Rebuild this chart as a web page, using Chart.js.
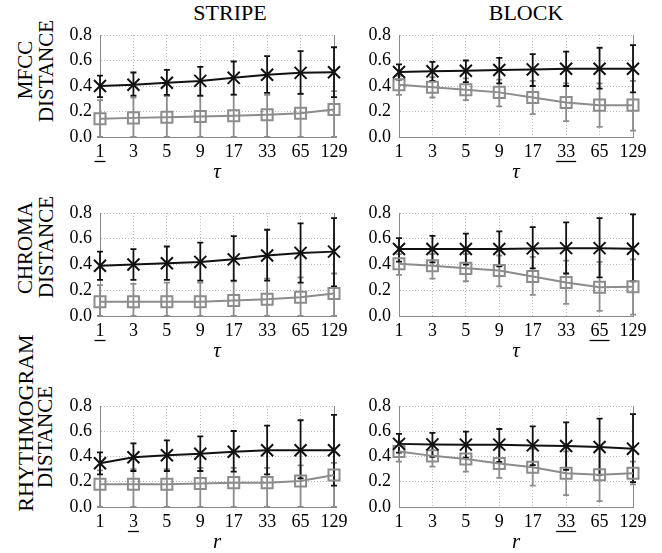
<!DOCTYPE html>
<html lang="en">
<head>
<meta charset="UTF-8">
<title>Distance vs tau / r</title>
<script src="https://cdn.jsdelivr.net/npm/chart.js"></script>
<style>
  body { margin: 0; background: #fff; font-family: "Liberation Serif", "Times New Roman", Times, serif; color: #000; }
  #fig { position: relative; width: 662px; height: 553px; overflow: hidden; }
  .panel { position: absolute; }
  .col-title { position: absolute; top: 2px; font-size: 22px; line-height: 22px; white-space: nowrap; transform: translateX(-50%); }
  .row-title { position: absolute; font-size: 21px; line-height: 21px; white-space: nowrap; transform: translate(-50%, -50%) rotate(-90deg); }
</style>
</head>
<body>
<div id="fig">
  <div class="col-title" style="left:230px">STRIPE</div>
  <div class="col-title" style="left:526px">BLOCK</div>

  <div class="row-title" style="left:25px; top:70px">MFCC</div>
  <div class="row-title" style="left:46px; top:71px">DISTANCE</div>
  <div class="row-title" style="left:25px; top:248px">CHROMA</div>
  <div class="row-title" style="left:46px; top:247px">DISTANCE</div>
  <div class="row-title" style="left:25px; top:423px; font-size:22px">RHYTHMOGRAM</div>
  <div class="row-title" style="left:45px; top:437px">DISTANCE</div>
</div>

<script>
// x categories and y ticks
const xLabels = ['1', '3', '5', '9', '17', '33', '65', '129'];
const yTickValues = [0, 0.2, 0.4, 0.6, 0.8];
const yTickLabels = ['0.0', '0.2', '0.4', '0.6', '0.8'];

// MFCC / STRIPE
const mfccStripeBlack   = [0.40, 0.41, 0.425, 0.44, 0.464, 0.488, 0.503, 0.508];
const mfccStripeBlackLo = [0.312, 0.325, 0.33, 0.325, 0.333, 0.346, 0.339, 0.312];
const mfccStripeBlackHi = [0.482, 0.506, 0.527, 0.55, 0.592, 0.634, 0.673, 0.704];
const mfccStripeGray    = [0.143, 0.15, 0.155, 0.16, 0.166, 0.174, 0.187, 0.216];
const mfccStripeGrayLo  = [0, 0, 0, 0, 0, 0, 0, 0];
const mfccStripeGrayHi  = [0.29, 0.31, 0.32, 0.32, 0.33, 0.33, 0.34, 0.36];

// MFCC / BLOCK
const mfccBlockBlack   = [0.51, 0.515, 0.52, 0.525, 0.53, 0.535, 0.535, 0.535];
const mfccBlockBlackLo = [0.45, 0.44, 0.43, 0.42, 0.40, 0.40, 0.38, 0.35];
const mfccBlockBlackHi = [0.57, 0.59, 0.60, 0.62, 0.65, 0.67, 0.70, 0.72];
const mfccBlockGray    = [0.41, 0.39, 0.37, 0.35, 0.31, 0.27, 0.25, 0.25];
const mfccBlockGrayLo  = [0.33, 0.31, 0.29, 0.24, 0.18, 0.125, 0.08, 0.05];
const mfccBlockGrayHi  = [0.48, 0.47, 0.46, 0.45, 0.44, 0.42, 0.42, 0.44];

// CHROMA / STRIPE
const chromaStripeBlack   = [0.39, 0.40, 0.41, 0.42, 0.44, 0.47, 0.49, 0.50];
const chromaStripeBlackLo = [0.28, 0.28, 0.28, 0.275, 0.275, 0.275, 0.26, 0.23];
const chromaStripeBlackHi = [0.50, 0.52, 0.54, 0.57, 0.62, 0.67, 0.72, 0.76];
const chromaStripeGray    = [0.11, 0.11, 0.11, 0.11, 0.12, 0.13, 0.145, 0.175];
const chromaStripeGrayLo  = [0, 0, 0, 0, 0, 0, 0, 0];
const chromaStripeGrayHi  = [0.24, 0.25, 0.26, 0.26, 0.27, 0.29, 0.30, 0.33];

// CHROMA / BLOCK
const chromaBlockBlack   = [0.52, 0.52, 0.52, 0.52, 0.525, 0.527, 0.527, 0.522];
const chromaBlockBlackLo = [0.423, 0.416, 0.40, 0.385, 0.37, 0.33, 0.30, 0.27];
const chromaBlockBlackHi = [0.605, 0.623, 0.64, 0.657, 0.69, 0.727, 0.76, 0.79];
const chromaBlockGray    = [0.405, 0.39, 0.37, 0.353, 0.306, 0.26, 0.223, 0.228];
const chromaBlockGrayLo  = [0.32, 0.29, 0.27, 0.23, 0.164, 0.094, 0.04, 0.01];
const chromaBlockGrayHi  = [0.48, 0.48, 0.48, 0.47, 0.46, 0.43, 0.42, 0.44];

// RHYTHMOGRAM / STRIPE
const rhythmStripeBlack   = [0.346, 0.394, 0.41, 0.422, 0.438, 0.449, 0.449, 0.449];
const rhythmStripeBlackLo = [0.259, 0.285, 0.285, 0.285, 0.28, 0.259, 0.227, 0.17];
const rhythmStripeBlackHi = [0.433, 0.504, 0.528, 0.56, 0.602, 0.644, 0.687, 0.729];
const rhythmStripeGray    = [0.18, 0.18, 0.18, 0.187, 0.193, 0.193, 0.206, 0.253];
const rhythmStripeGrayLo  = [0, 0, 0, 0, 0, 0, 0, 0];
const rhythmStripeGrayHi  = [0.29, 0.30, 0.30, 0.31, 0.31, 0.31, 0.33, 0.35];

// RHYTHMOGRAM / BLOCK
const rhythmBlockBlack   = [0.50, 0.496, 0.494, 0.494, 0.488, 0.483, 0.475, 0.462];
const rhythmBlockBlackLo = [0.43, 0.397, 0.39, 0.358, 0.332, 0.294, 0.255, 0.197];
const rhythmBlockBlackHi = [0.58, 0.587, 0.597, 0.618, 0.639, 0.67, 0.70, 0.735];
const rhythmBlockGray    = [0.44, 0.405, 0.38, 0.345, 0.314, 0.267, 0.255, 0.267];
const rhythmBlockGrayLo  = [0.36, 0.32, 0.28, 0.23, 0.17, 0.094, 0.047, 0.18];
const rhythmBlockGrayHi  = [0.52, 0.50, 0.48, 0.47, 0.46, 0.44, 0.46, 0.36];

// layout of the plot areas on the page
const colLeft = [100, 399];
const plotW = 234;
const rowTop = [35, 213, 406];
const rowH = [102, 103, 101];
const PAD_L = 60, PAD_T = 12, PAD_R = 22, PAD_B = 50;

const BLACK = '#111';
const GRAY = '#8c8c8c';
const GRID = '#b8b8b8';
const AXIS = '#8a8a8a';
const FONT = '"Liberation Serif", "Times New Roman", Times, serif';
const TICK_SIZE = 18;

const panels = [
  { col: 0, row: 0, axis: 'τ', mark: 0, b: mfccStripeBlack, bLo: mfccStripeBlackLo, bHi: mfccStripeBlackHi, g: mfccStripeGray, gLo: mfccStripeGrayLo, gHi: mfccStripeGrayHi },
  { col: 1, row: 0, axis: 'τ', mark: 5, b: mfccBlockBlack, bLo: mfccBlockBlackLo, bHi: mfccBlockBlackHi, g: mfccBlockGray, gLo: mfccBlockGrayLo, gHi: mfccBlockGrayHi },
  { col: 0, row: 1, axis: 'τ', mark: 0, b: chromaStripeBlack, bLo: chromaStripeBlackLo, bHi: chromaStripeBlackHi, g: chromaStripeGray, gLo: chromaStripeGrayLo, gHi: chromaStripeGrayHi },
  { col: 1, row: 1, axis: 'τ', mark: 6, b: chromaBlockBlack, bLo: chromaBlockBlackLo, bHi: chromaBlockBlackHi, g: chromaBlockGray, gLo: chromaBlockGrayLo, gHi: chromaBlockGrayHi },
  { col: 0, row: 2, axis: 'r', mark: 1, b: rhythmStripeBlack, bLo: rhythmStripeBlackLo, bHi: rhythmStripeBlackHi, g: rhythmStripeGray, gLo: rhythmStripeGrayLo, gHi: rhythmStripeGrayHi },
  { col: 1, row: 2, axis: 'r', mark: 5, b: rhythmBlockBlack, bLo: rhythmBlockBlackLo, bHi: rhythmBlockBlackHi, g: rhythmBlockGray, gLo: rhythmBlockGrayLo, gHi: rhythmBlockGrayHi }
];

// vertical error bars with small caps
const errorBars = {
  id: 'errorBars',
  beforeDatasetsDraw(chart) {
    const { ctx, scales: { x, y } } = chart;
    const sets = chart.data.datasets.slice().reverse();
    sets.forEach(ds => {
      ctx.save();
      ctx.strokeStyle = ds.borderColor;
      ctx.lineWidth = 1.8;
      ds.data.forEach((v, j) => {
        const px = x.getPixelForValue(j);
        const top = y.getPixelForValue(ds.errHi[j]);
        const bot = y.getPixelForValue(ds.errLo[j]);
        ctx.beginPath();
        ctx.moveTo(px, top); ctx.lineTo(px, bot);
        ctx.moveTo(px - 3, top); ctx.lineTo(px + 3, top);
        ctx.moveTo(px - 3, bot); ctx.lineTo(px + 3, bot);
        ctx.stroke();
      });
      ctx.restore();
    });
  }
};

// underline of the selected x tick label
const underline = {
  id: 'underline',
  afterDraw(chart, args, opts) {
    const i = opts.index;
    if (i === undefined || i === null) return;
    const x = chart.scales.x;
    const ctx = chart.ctx;
    ctx.save();
    ctx.font = TICK_SIZE + 'px ' + FONT;
    const w = ctx.measureText(xLabels[i]).width;
    let mid = x.top + 4 + TICK_SIZE * 1.2 / 2;
    if (x.getLabelItems) {
      const items = x.getLabelItems();
      if (items && items[i]) mid = items[i].options.translation[1] + (items[i].textOffset || 0);
    }
    const px = x.getPixelForValue(i);
    const yy = Math.round(mid + 9) + 0.5;
    ctx.strokeStyle = '#000';
    ctx.lineWidth = 1.3;
    ctx.beginPath();
    ctx.moveTo(px - w / 2 - 1, yy);
    ctx.lineTo(px + w / 2 + 1, yy);
    ctx.stroke();
    ctx.restore();
  }
};

const fig = document.getElementById('fig');
const last = xLabels.length - 1;

panels.forEach(p => {
  const canvas = document.createElement('canvas');
  const w = PAD_L + plotW + PAD_R;
  const h = PAD_T + rowH[p.row] + PAD_B;
  canvas.width = w;
  canvas.height = h;
  canvas.className = 'panel';
  canvas.style.left = (colLeft[p.col] - PAD_L) + 'px';
  canvas.style.top = (rowTop[p.row] - PAD_T) + 'px';
  canvas.style.width = w + 'px';
  canvas.style.height = h + 'px';
  fig.appendChild(canvas);

  new Chart(canvas.getContext('2d'), {
    type: 'line',
    data: {
      labels: xLabels,
      datasets: [
        {
          data: p.b, errLo: p.bLo, errHi: p.bHi,
          borderColor: BLACK, borderWidth: 2,
          pointStyle: 'crossRot', pointRadius: 8.5, pointBorderWidth: 2,
          pointBorderColor: BLACK, pointBackgroundColor: 'rgba(0,0,0,0)',
          tension: 0, clip: false
        },
        {
          data: p.g, errLo: p.gLo, errHi: p.gHi,
          borderColor: GRAY, borderWidth: 2,
          pointStyle: 'rect', pointRadius: 7.8, pointBorderWidth: 2,
          pointBorderColor: GRAY, pointBackgroundColor: 'rgba(0,0,0,0)',
          tension: 0, clip: false
        }
      ]
    },
    options: {
      responsive: false,
      animation: false,
      events: [],
      layout: { padding: { left: 0, top: PAD_T, right: PAD_R, bottom: 0 } },
      plugins: {
        legend: { display: false },
        tooltip: { enabled: false },
        underline: { index: p.mark }
      },
      scales: {
        x: {
          type: 'category',
          offset: false,
          grid: {
            drawTicks: false,
            lineWidth: 1,
            color: c => c.index === last ? AXIS : GRID
          },
          border: {
            display: true, color: AXIS, width: 1,
            dash: c => c.index === last ? [] : [1, 2]
          },
          ticks: {
            color: '#000', padding: 4, maxRotation: 0, autoSkip: false,
            font: { family: FONT, size: TICK_SIZE }
          },
          title: {
            display: true, text: p.axis, color: '#000',
            font: { family: FONT, size: 21, style: 'italic' },
            padding: { top: 0, bottom: 2 }
          },
          afterFit: s => { s.height = PAD_B; s.paddingLeft = 0; s.paddingRight = 0; }
        },
        y: {
          min: 0,
          max: 0.8,
          afterBuildTicks: s => { s.ticks = yTickValues.map(v => ({ value: v })); },
          grid: { drawTicks: false, lineWidth: 1, color: GRID },
          border: { display: true, color: AXIS, width: 1, dash: [1, 2] },
          ticks: {
            color: '#000', padding: 8,
            font: { family: FONT, size: TICK_SIZE },
            callback: (v, i) => yTickLabels[i]
          },
          afterFit: s => { s.width = PAD_L; s.paddingTop = 0; s.paddingBottom = 0; }
        }
      }
    },
    plugins: [errorBars, underline]
  });
});
</script>
</body>
</html>
